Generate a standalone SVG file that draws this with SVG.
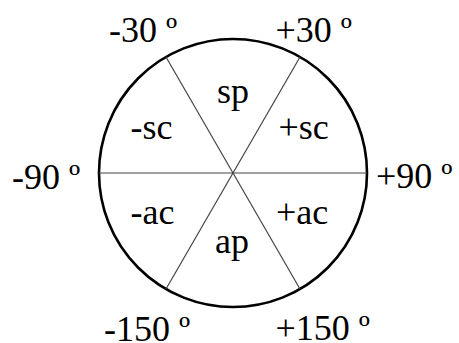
<svg xmlns="http://www.w3.org/2000/svg" width="459" height="343" viewBox="0 0 459 343">
<style>
text{font-family:"Liberation Serif","Times New Roman",serif;font-size:36px;fill:#000}
.mid{text-anchor:middle}
.ring{fill:#fff;stroke:#000;stroke-width:2.6}
.div{stroke:#444;stroke-width:1.2;fill:none}
</style>
<rect width="459" height="343" fill="#fff"/>
<g id="circle"><circle class="ring" cx="233" cy="173" r="134"/></g>
<g id="connectors">
<line class="div" x1="99" y1="173" x2="367" y2="173"/>
<line class="div" x1="166" y1="57" x2="300" y2="289"/>
<line class="div" x1="300" y1="57" x2="166" y2="289"/>
</g>
<g id="sector-sp"><text class="mid" x="233" y="103">sp</text></g>
<g id="sector-msc"><text x="130.5" y="139">-sc</text></g>
<g id="sector-psc"><text x="278.5" y="138.5">+sc</text></g>
<g id="sector-mac"><text x="130.5" y="224">-ac</text></g>
<g id="sector-pac"><text x="276" y="224">+ac</text></g>
<g id="sector-ap"><text class="mid" x="232" y="253">ap</text></g>
<g id="angle-m30"><text x="109" y="42">-30 º</text></g>
<g id="angle-p30"><text x="275.5" y="42">+30 º</text></g>
<g id="angle-m90"><text x="12" y="188.5">-90 º</text></g>
<g id="angle-p90"><text x="376" y="188">+90 º</text></g>
<g id="angle-m150"><text x="104" y="340.5">-150 º</text></g>
<g id="angle-p150"><text x="275.5" y="340">+150 º</text></g>
</svg>
